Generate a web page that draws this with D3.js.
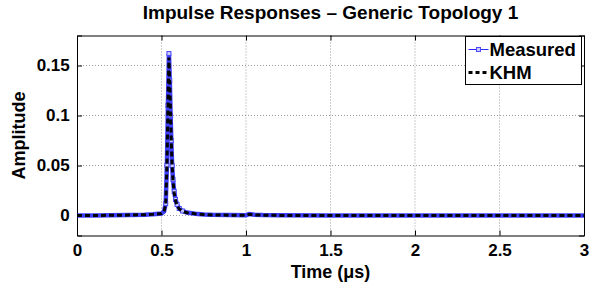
<!DOCTYPE html>
<html>
<head>
<meta charset="utf-8">
<script src="https://cdn.jsdelivr.net/npm/d3@7"></script>
<style>
  body { margin: 0; background: #fff; }
  text { font-family: "Liberation Sans", Arial, sans-serif; font-weight: bold; }
</style>
</head>
<body>
<svg id="chart" width="592" height="287"></svg>
<script>
// time axis in microseconds
var timeUs = [0, 0.1, 0.2, 0.3, 0.4, 0.45, 0.5, 0.515, 0.525, 0.532, 0.538, 0.544, 0.549, 0.554, 0.558, 0.563, 0.568, 0.575, 0.583, 0.592, 0.605, 0.625, 0.65, 0.7, 0.75, 0.8, 0.9, 1.0, 1.02, 1.05, 1.1, 1.2, 1.5, 2.0, 2.5, 3.0];
var measured = [0, 0, 0.0002, 0.0004, 0.0008, 0.0012, 0.002, 0.004, 0.012, 0.05, 0.11, 0.162, 0.135, 0.1, 0.075, 0.05, 0.036, 0.024, 0.016, 0.011, 0.007, 0.0045, 0.003, 0.0018, 0.0011, 0.0007, 0.0004, 0.0003, 0.0015, 0.0008, 0.0004, 0.0002, 0, 0, 0, 0];
var khm = [0, 0, 0.0002, 0.0004, 0.0008, 0.0012, 0.002, 0.004, 0.011, 0.048, 0.108, 0.158, 0.133, 0.099, 0.074, 0.049, 0.035, 0.023, 0.015, 0.010, 0.0065, 0.0042, 0.0028, 0.0017, 0.001, 0.0006, 0.0003, 0.0002, 0.0012, 0.0006, 0.0003, 0.0001, 0, 0, 0, 0];

var xTicks = [0, 0.5, 1, 1.5, 2, 2.5, 3];
var yTicks = [0, 0.05, 0.1, 0.15];
var seriesNames = ["Measured", "KHM"];

var margin = { left: 77, right: 8, top: 35.5, bottom: 51.5 };
var W = 592, H = 287;

var svg = d3.select("#chart");

var x = d3.scaleLinear().domain([0, 3]).range([margin.left, W - margin.right]);
var y = d3.scaleLinear().domain([-0.02, 0.18]).range([H - margin.bottom, margin.top]);

// grid
var grid = svg.append("g");
grid.selectAll("line.gx").data(xTicks.slice(1, -1)).enter().append("line")
    .attr("x1", function (d) { return x(d); }).attr("x2", function (d) { return x(d); })
    .attr("y1", y.range()[0]).attr("y2", y.range()[1])
    .attr("stroke", "#9a9a9a").attr("stroke-width", 1).attr("stroke-dasharray", "1,2");
grid.selectAll("line.gy").data(yTicks).enter().append("line")
    .attr("x1", x.range()[0]).attr("x2", x.range()[1])
    .attr("y1", function (d) { return y(d); }).attr("y2", function (d) { return y(d); })
    .attr("stroke", "#9a9a9a").attr("stroke-width", 1).attr("stroke-dasharray", "1,2");

// axes (ticks inward)
var xAxis = d3.axisBottom(x).tickValues(xTicks).tickSize(-5).tickFormat(d3.format("~g"));
var yAxis = d3.axisLeft(y).tickValues(yTicks).tickSize(-5).tickFormat(d3.format("~g"));

var gx = svg.append("g").attr("transform", "translate(0," + y.range()[0] + ")").call(xAxis);
gx.selectAll("text").attr("dy", "1.05em").style("font-size", "17px").attr("fill", "#000");
var gy = svg.append("g").attr("transform", "translate(" + x.range()[0] + ",0)").call(yAxis);
gy.selectAll("text").attr("dx", "-0.25em").style("font-size", "17px").attr("fill", "#000");

svg.append("g").attr("transform", "translate(0," + y.range()[1] + ")")
    .call(d3.axisTop(x).tickValues(xTicks).tickSize(-5).tickFormat(""));
svg.append("g").attr("transform", "translate(" + x.range()[1] + ",0)")
    .call(d3.axisRight(y).tickValues(yTicks).tickSize(-5).tickFormat(""));

svg.selectAll(".domain").attr("stroke", "#000").attr("stroke-width", 1);
svg.selectAll(".tick line").attr("stroke", "#000");

// series
var line = d3.line()
    .x(function (d) { return x(d[0]); })
    .y(function (d) { return y(d[1]); });

var measPts = timeUs.map(function (t, i) { return [t, measured[i]]; });
var khmPts = timeUs.map(function (t, i) { return [t, khm[i]]; });

svg.append("path").datum(measPts).attr("d", line)
    .attr("fill", "none").attr("stroke", "#2a2aff").attr("stroke-width", 4.5).attr("stroke-opacity", 0.9);
svg.selectAll("rect.mk").data(measPts.filter(function (d) { return d[1] > 0.004; })).enter().append("rect")
    .attr("x", function (d) { return x(d[0]) - 2; }).attr("y", function (d) { return y(d[1]) - 2; })
    .attr("width", 4).attr("height", 4)
    .attr("fill", "#c8c8ff").attr("stroke", "#4b4bff").attr("stroke-width", 1);

svg.append("path").datum(khmPts).attr("d", line)
    .attr("fill", "none").attr("stroke", "#000").attr("stroke-width", 3).attr("stroke-dasharray", "5,3");

// title and labels
var cx = (x.range()[0] + x.range()[1]) / 2;
svg.append("text").attr("x", cx).attr("y", 19)
    .attr("text-anchor", "middle").style("font-size", "19px").text("Impulse Responses \u2013 Generic Topology 1");
svg.append("text").attr("x", cx).attr("y", 278)
    .attr("text-anchor", "middle").style("font-size", "18px").text("Time (\u03bcs)");
svg.append("text").attr("transform", "translate(25," + (y.range()[0] + y.range()[1]) / 2 + ") rotate(-90)")
    .attr("text-anchor", "middle").style("font-size", "18px").text("Amplitude");

// legend
var lg = svg.append("g").attr("transform", "translate(465.5,36.5)");
lg.append("rect").attr("x", 0).attr("y", 0).attr("width", 116).attr("height", 48)
    .attr("fill", "#fff").attr("stroke", "#000").attr("stroke-width", 1);
lg.append("line").attr("x1", 3).attr("x2", 23).attr("y1", 13).attr("y2", 13)
    .attr("stroke", "#2a2aff").attr("stroke-width", 1);
lg.append("rect").attr("x", 11).attr("y", 11).attr("width", 4).attr("height", 4)
    .attr("fill", "#c8c8ff").attr("stroke", "#4b4bff");
lg.append("line").attr("x1", 3).attr("x2", 23).attr("y1", 36).attr("y2", 36)
    .attr("stroke", "#000").attr("stroke-width", 3).attr("stroke-dasharray", "4,3");
lg.selectAll("text.lt").data(seriesNames).enter().append("text")
    .attr("x", 24).attr("y", function (d, i) { return 19.5 + i * 23; })
    .style("font-size", "18.5px").text(function (d) { return d; });
</script>
</body>
</html>
